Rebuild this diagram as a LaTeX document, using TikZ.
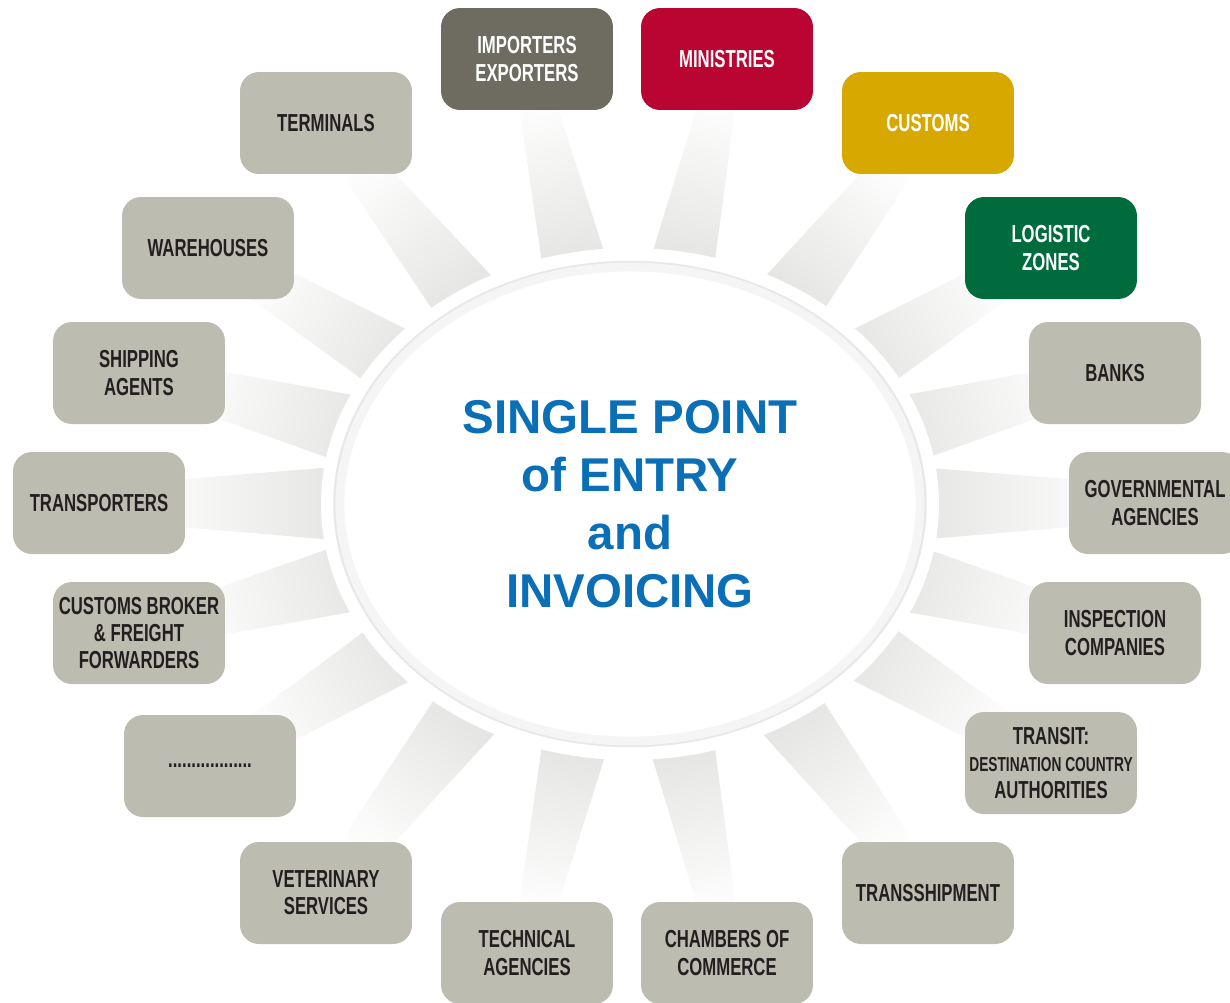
\documentclass[tikz,border=0pt]{standalone}
\usepackage{fontspec}
\usepackage{xcolor}
\usepackage{tikz}
\usetikzlibrary{shapes.geometric, calc, backgrounds}

\setmainfont{Liberation Sans}
\newfontfamily\dinfont[FakeStretch=0.68]{Liberation Sans}

\definecolor{grigiobox}{HTML}{BDBCB0}
\definecolor{grigioscuro}{HTML}{6E6C61}
\definecolor{rossomin}{HTML}{BA0532}
\definecolor{gialloog}{HTML}{D6A800}
\definecolor{verdelog}{HTML}{006B3C}
\definecolor{testobox}{HTML}{231F20}
\definecolor{blutitolo}{HTML}{0A6FB7}
\definecolor{raggio}{HTML}{E2E2E0}

\begin{document}
\begin{tikzpicture}[x=0.02cm,y=0.02cm,
    ente/.style={rectangle,rounded corners=0.38cm,fill=grigiobox,text=testobox,
      minimum width=3.44cm,minimum height=2.04cm,align=center,inner sep=2pt,
      font=\dinfont\bfseries\fontsize{14}{15.5}\selectfont},
    entechiave/.style={ente,text=white,fill=#1}]
    \useasboundingbox (0,0) rectangle (1230,-1002);

    % Centro
    \node[ellipse,fill=white,draw=black!9,line width=2pt,minimum width=11.8cm,minimum height=9.66cm,
      align=center,text=blutitolo,font=\bfseries\fontsize{27}{33}\selectfont] (spe) at (630,-504)
      {SINGLE POINT\\of ENTRY\\and\\INVOICING};
    \draw[black!4,line width=5pt] (spe.center) ellipse[x radius=290,y radius=237];

    % Enti principali
    \node[entechiave=grigioscuro] (imp) at (527,-59) {IMPORTERS\\EXPORTERS};
    \node[entechiave=rossomin] (min) at (727,-59) {MINISTRIES};
    \node[entechiave=gialloog] (customs) at (928,-123) {CUSTOMS};
    \node[entechiave=verdelog] (logistic) at (1051,-248) {LOGISTIC\\ZONES};

    % Altri enti
    \node[ente] (banks) at (1115,-373) {BANKS};
    \node[ente] (gov) at (1155,-503) {GOVERNMENTAL\\AGENCIES};
    \node[ente] (inspect) at (1115,-633) {INSPECTION\\COMPANIES};
    \node[ente] (transit) at (1051,-763) {TRANSIT:\\\fontsize{11.5}{12.5}\selectfont DESTINATION COUNTRY\\AUTHORITIES};
    \node[ente] (tship) at (928,-893) {TRANSSHIPMENT};
    \node[ente] (chamber) at (727,-953) {CHAMBERS OF\\COMMERCE};
    \node[ente] (tech) at (527,-953) {TECHNICAL\\AGENCIES};
    \node[ente] (vet) at (326,-893) {VETERINARY\\SERVICES};
    \node[ente] (altro) at (210,-766) {..................};
    \node[ente] (broker) at (139,-633) {CUSTOMS BROKER\\\& FREIGHT\\FORWARDERS};
    \node[ente] (transp) at (99,-503) {TRANSPORTERS};
    \node[ente] (shipag) at (139,-373) {SHIPPING\\AGENTS};
    \node[ente] (wareh) at (208,-248) {WAREHOUSES};
    \node[ente] (term) at (326,-123) {TERMINALS};

    % Raggi
    \begin{scope}[on background layer]
      \foreach \n/\a in {imp/103,min/78,customs/52,logistic/31,banks/15,gov/0,inspect/-15,transit/-32,
                         tship/-53,chamber/-78,tech/-103,vet/-128,altro/-149,broker/-165,transp/180,
                         shipag/165,wareh/149,term/128}{
        \pgfmathsetmacro\ang{\a-90}
        \shade[top color=white,bottom color=raggio,shading angle=\ang]
          ($(spe.center)!0.5!8.5:(\n)$) -- ($(spe.center)!0.95!2.2:(\n)$)
          -- ($(spe.center)!0.95!-2.2:(\n)$) -- ($(spe.center)!0.5!-8.5:(\n)$) -- cycle;
      }
      \fill[white] (spe.center) ellipse[x radius=309,y radius=256];
    \end{scope}
\end{tikzpicture}
\end{document}
